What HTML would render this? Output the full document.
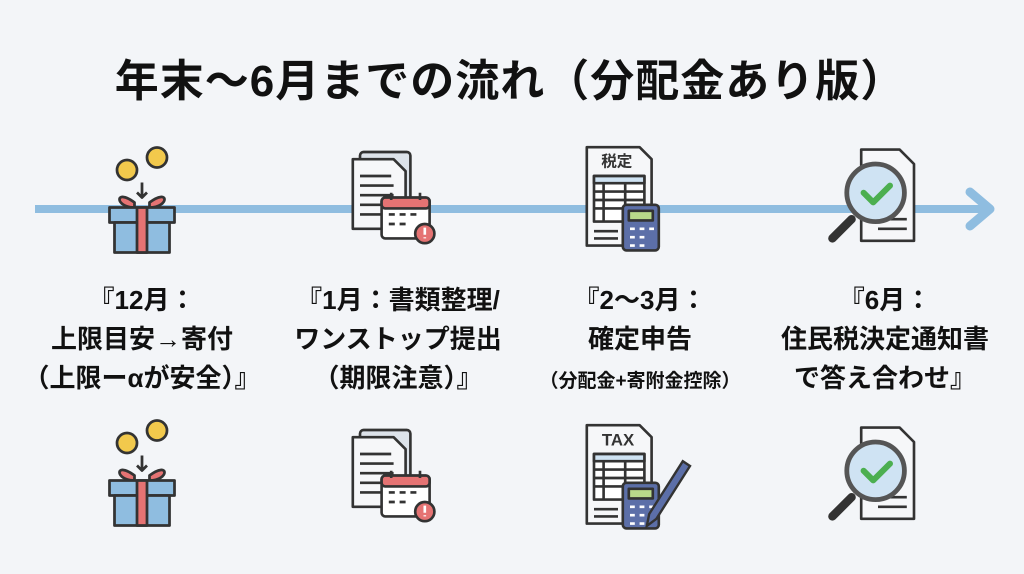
<!DOCTYPE html>
<html><head><meta charset="utf-8"><style>
body{margin:0;width:1024px;height:574px;background:#f3f5f8;font-family:"Liberation Sans","Noto Sans CJK JP",sans-serif;position:relative;overflow:hidden;color:#111}
.t{position:absolute;left:0;width:1020px;top:45px;text-align:center;font-size:44px;font-weight:bold;letter-spacing:1px}
.l{position:absolute;text-align:center;font-weight:bold;font-size:26px;line-height:39px;width:300px;white-space:nowrap}
svg{position:absolute;left:0;top:0}
</style></head><body>
<div class="t">年末〜6月までの流れ（分配金あり版）</div>
<svg width="1024" height="574" viewBox="0 0 1024 574">
<defs>
<g id="gift" stroke="#333" stroke-width="2.2" stroke-linejoin="round">
<circle cx="-12" cy="-28" r="8" fill="#f2c94c"/><circle cx="12" cy="-38" r="8" fill="#f2c94c"/>
<path d="M0 -18 V-6 M-4 -10 L0 -6 L4 -10" fill="none"/>
<path d="M-6 -2 C-22 -14 -22 2 -6 2 Z M6 -2 C22 -14 22 2 6 2 Z" fill="#e57373"/>
<rect x="-26" y="2" width="52" height="12" fill="#8fbde0"/>
<rect x="-22" y="14" width="44" height="24" fill="#8fbde0"/>
<rect x="-4" y="2" width="8" height="36" fill="#e57373"/>
</g>
<g id="doc" stroke="#333" stroke-width="2.2" stroke-linejoin="round">
<rect x="-20" y="-40" width="42" height="58" rx="3" fill="#dde3ea"/>
<path d="M-26 -34 H8 L18 -24 V24 H-26 Z" fill="#f6f7f9"/>
<path d="M-20 -20H6M-20 -12H8M-20 -4H8M-20 4H2M-20 12H2" fill="none"/>
<rect x="-2" y="-2" width="40" height="34" rx="3" fill="#fff"/>
<rect x="-2" y="-2" width="40" height="9" rx="3" fill="#e57373"/>
<path d="M6 -6V0M30 -6V0" fill="none"/>
<path d="M4 12h5M13 12h5M22 12h5M4 20h5M13 20h5" fill="none"/>
<circle cx="34" cy="28" r="8" fill="#e57373"/>
<path d="M34 23v6M34 31v1" stroke="#fff"/>
</g>
<g id="tax" stroke="#333" stroke-width="2.2" stroke-linejoin="round">
<path d="M-36 -44 H8 L18 -34 V38 H-36 Z" fill="#f6f7f9"/>
<path d="M-30 -20 H12 V18 H-30 Z" fill="#fff"/>
<path d="M-30 -20H12V-14H-30ZM-30 -7H12M-30 0H12M-30 7H12M-22 -14V18M-4 -14V18" fill="#cfe3f3"/>
<path d="M-30 26h20M-30 32h20" fill="none"/>
<rect x="-6" y="4" width="30" height="38" rx="3" fill="#5c6fa8"/>
<rect x="-1" y="9" width="20" height="8" fill="#b9d98a"/>
<path d="M0 24h4M8 24h4M16 24h4M0 31h4M8 31h4M0 38h4M8 38h4" stroke="#fff"/>
</g>
<g id="mag" stroke="#333" stroke-width="2.2" stroke-linejoin="round">
<path d="M-14 -42 H18 L30 -30 V34 H-14 Z" fill="#f6f7f9"/>
<path d="M0 24H24M4 16H24" fill="none"/>
<path d="M-22 16 L-38 32" stroke-width="7" stroke-linecap="round"/>
<circle cx="-2" cy="-6" r="24" fill="#cfe3f3" stroke-width="4" stroke="#555"/>
<path d="M-12 -6 L-4 2 L10 -12" stroke="#4caf50" stroke-width="5" fill="none" stroke-linecap="round"/>
</g>
</defs>
<line x1="35" y1="209" x2="990" y2="209" stroke="#8fbde0" stroke-width="8"/>
<path d="M970 192 L990 209 L970 226" fill="none" stroke="#8fbde0" stroke-width="9" stroke-linecap="round" stroke-linejoin="round"/>
<g transform="translate(142,205) scale(1.25)"><use href="#gift"/></g>
<g transform="translate(384,200) scale(1.2)"><use href="#doc"/></g>
<g transform="translate(630,200) scale(1.2)"><use href="#tax"/>
<rect x="-26" y="-42" width="30" height="18" fill="#f6f7f9"/>
<text x="-11" y="-28" font-size="13" font-weight="bold" text-anchor="middle" fill="#333">税定</text></g>
<g transform="translate(878,200) scale(1.2)"><use href="#mag"/></g>
<g transform="translate(142,478) scale(1.25)"><use href="#gift"/></g>
<g transform="translate(384,478) scale(1.2)"><use href="#doc"/></g>
<g transform="translate(630,478) scale(1.2)"><use href="#tax"/>
<text x="-10" y="-27" font-size="14" font-weight="bold" text-anchor="middle" fill="#333">TAX</text>
<path d="M16 30 L44 -14 L50 -10 L22 34 L14 40 Z" fill="#5c6fa8" stroke="#333" stroke-width="2"/></g>
<g transform="translate(878,478) scale(1.2)"><use href="#mag"/></g>
</svg>
<div class="l" style="left:-8px;top:281px">『12月：<br>上限目安→寄付<br>（上限ーαが安全）』</div>
<div class="l" style="left:248px;top:281px">『1月：書類整理/<br>ワンストップ提出<br>（期限注意）』</div>
<div class="l" style="left:490px;top:281px">『2〜3月：<br>確定申告<br><span style="font-size:19px">（分配金+寄附金控除）</span></div>
<div class="l" style="left:735px;top:281px">『6月：<br>住民税決定通知書<br>で答え合わせ』</div>
</body></html>
